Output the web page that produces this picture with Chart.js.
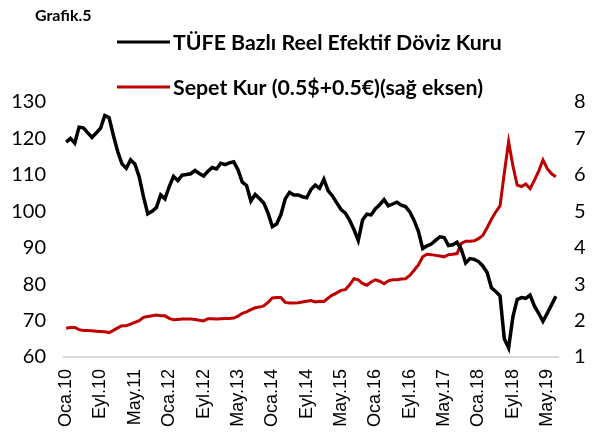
<!DOCTYPE html>
<html>
<head>
<meta charset="utf-8">
<script src="https://cdn.jsdelivr.net/npm/chart.js@4.4.1/dist/chart.umd.min.js"></script>
<style>
  html, body { margin: 0; padding: 0; background: #ffffff; }
  #wrap { width: 605px; height: 437px; position: relative; }
</style>
</head>
<body>
<div id="wrap"><canvas id="c" width="605" height="437"></canvas></div>
<script>
// ---- Data ----
const chartTitle = "Grafik.5";
const monthNames = ["Oca", "Şub", "Mar", "Nis", "May", "Haz", "Tem", "Ağu", "Eyl", "Eki", "Kas", "Ara"];
const years = ["10", "11", "12", "13", "14", "15", "16", "17", "18", "19"];
const lastMonthIndex2019 = 6; // Temmuz 2019

const seriesNames = ["TÜFE Bazlı Reel Efektif Döviz Kuru", "Sepet Kur (0.5$+0.5€)(sağ eksen)"];

// TÜFE bazlı reel efektif döviz kuru (left axis), Oca.10 - Tem.19
const reerValues = [
  119.0, 120.0, 118.7, 123.1, 122.9, 121.6, 120.3, 121.5, 122.8, 126.3,
  125.7, 120.8, 116.4, 113.0, 111.8, 114.1, 113.0, 109.5, 104.0, 99.3,
  100.0, 101.0, 104.5, 103.4, 106.8, 109.6, 108.4, 109.9, 110.1, 110.3,
  111.2, 110.4, 109.7, 111.0, 112.0, 111.6, 113.2, 112.8, 113.3, 113.6,
  111.4, 108.0, 107.1, 102.8, 104.6, 103.5, 102.3, 99.5, 95.8, 96.5,
  99.1, 103.4, 105.2, 104.5, 104.5, 104.0, 103.7, 106.0, 107.2, 106.3,
  108.8, 105.6, 104.2, 102.3, 100.5, 99.5, 97.5, 95.0, 92.0, 97.6,
  99.2, 99.0, 100.7, 101.8, 103.2, 101.5, 102.0, 102.5, 101.7, 101.3,
  99.8, 97.5, 94.5, 89.8, 90.5, 91.0, 92.0, 93.0, 92.8, 90.6,
  90.8, 91.5, 89.5, 85.8, 87.0, 86.8, 86.2, 85.0, 83.2, 79.0,
  78.0, 76.8, 65.0, 62.5, 71.0, 75.8, 76.3, 76.1, 77.0, 74.0,
  72.0, 69.8, 72.0, 74.3, 76.7
];

// Sepet kur (right axis), Oca.10 - Tem.19
const basketValues = [
  1.79, 1.81, 1.81, 1.75, 1.73, 1.73, 1.72, 1.71, 1.70, 1.69,
  1.67, 1.73, 1.80, 1.86, 1.86, 1.90, 1.95, 2.00, 2.09, 2.11,
  2.13, 2.15, 2.13, 2.13, 2.06, 2.02, 2.03, 2.04, 2.04, 2.04,
  2.03, 2.01, 1.99, 2.05, 2.05, 2.04, 2.05, 2.06, 2.06, 2.07,
  2.12, 2.20, 2.24, 2.30, 2.35, 2.37, 2.40, 2.50, 2.62, 2.63,
  2.63, 2.50, 2.48, 2.48, 2.49, 2.51, 2.53, 2.55, 2.51, 2.53,
  2.52, 2.62, 2.70, 2.76, 2.83, 2.85, 2.98, 3.15, 3.12, 3.02,
  2.97, 3.06, 3.12, 3.08, 3.01, 3.09, 3.12, 3.12, 3.14, 3.15,
  3.24, 3.38, 3.53, 3.75, 3.82, 3.81, 3.79, 3.77, 3.75, 3.81,
  3.82, 3.84, 4.12, 4.18, 4.18, 4.19, 4.25, 4.34, 4.55, 4.78,
  4.98, 5.15, 6.05, 6.91, 6.25, 5.72, 5.68, 5.75, 5.62, 5.85,
  6.10, 6.41, 6.17, 6.03, 5.95
];

const leftTicks = [60, 70, 80, 90, 100, 110, 120, 130];
const rightTicks = [1, 2, 3, 4, 5, 6, 7, 8];
const labelEvery = 8;

// categories
const categories = [];
years.forEach((y, yi) => {
  const last = (yi === years.length - 1) ? lastMonthIndex2019 : 11;
  for (let m = 0; m <= last; m++) categories.push(monthNames[m] + "." + y);
});

const colors = ["#000000", "#C00000"];

const overlay = {
  id: "overlay",
  afterDraw(chart) {
    const ctx = chart.ctx;
    ctx.save();
    ctx.fillStyle = "#000";
    ctx.textBaseline = "middle";
    ctx.textAlign = "left";
    ctx.font = "bold 16px Lato, 'Open Sans', sans-serif";
    ctx.fillText(chartTitle, 35, 16);
    // fit legend font so the first label is ~328px wide
    let size = 20;
    ctx.font = "bold " + size + "px Lato, 'Open Sans', sans-serif";
    const w = ctx.measureText(chart.data.datasets[0].label).width;
    size = Math.round(size * 328 / w * 10) / 10;
    const rows = [42, 87];
    chart.data.datasets.forEach((ds, i) => {
      const y = rows[i];
      ctx.strokeStyle = ds.borderColor;
      ctx.lineWidth = 3;
      ctx.beginPath();
      ctx.moveTo(117, y);
      ctx.lineTo(170, y);
      ctx.stroke();
      ctx.fillStyle = "#000";
      ctx.font = "bold " + size + "px Lato, 'Open Sans', sans-serif";
      ctx.fillText(ds.label, 173, y + 1);
    });
    ctx.restore();
  }
};

new Chart(document.getElementById("c"), {
  type: "line",
  data: {
    labels: categories,
    datasets: [
      {
        label: seriesNames[0],
        data: reerValues,
        yAxisID: "y",
        borderColor: colors[0],
        backgroundColor: colors[0],
        borderWidth: 3.5,
        pointRadius: 0,
        tension: 0
      },
      {
        label: seriesNames[1],
        data: basketValues,
        yAxisID: "y1",
        borderColor: colors[1],
        backgroundColor: colors[1],
        borderWidth: 3,
        pointRadius: 0,
        tension: 0
      }
    ]
  },
  options: {
    responsive: false,
    animation: false,
    devicePixelRatio: 1,
    layout: { padding: { top: 102, left: 0, right: 0, bottom: 0 } },
    plugins: {
      legend: { display: false },
      title: { display: false },
      tooltip: { enabled: false }
    },
    scales: {
      x: {
        offset: true,
        grid: { display: false, drawTicks: false },
        border: { display: true, color: "#d9d9d9", width: 2 },
        ticks: {
          autoSkip: false,
          maxRotation: 90,
          minRotation: 90,
          padding: 12,
          color: "#000",
          font: { family: "'Liberation Sans', Arial, sans-serif", size: 18 },
          callback: function (v, i) { return i % labelEvery === 0 ? categories[i] : ""; }
        },
        afterFit(scale) { scale.height = 80; }
      },
      y: {
        position: "left",
        min: leftTicks[0],
        max: leftTicks[leftTicks.length - 1],
        grid: { display: false, drawTicks: false },
        border: { display: false },
        afterBuildTicks(scale) { scale.ticks = leftTicks.map(v => ({ value: v })); },
        ticks: {
          padding: 18,
          color: "#000",
          font: { family: "Lato, 'Open Sans', sans-serif", size: 20 }
        },
        afterFit(scale) { scale.width = 64; }
      },
      y1: {
        position: "right",
        min: rightTicks[0],
        max: rightTicks[rightTicks.length - 1],
        grid: { display: false, drawTicks: false },
        border: { display: false },
        afterBuildTicks(scale) { scale.ticks = rightTicks.map(v => ({ value: v })); },
        ticks: {
          padding: 16,
          color: "#000",
          font: { family: "Lato, 'Open Sans', sans-serif", size: 20 }
        },
        afterFit(scale) { scale.width = 47; }
      }
    }
  },
  plugins: [overlay]
});
</script>
</body>
</html>
